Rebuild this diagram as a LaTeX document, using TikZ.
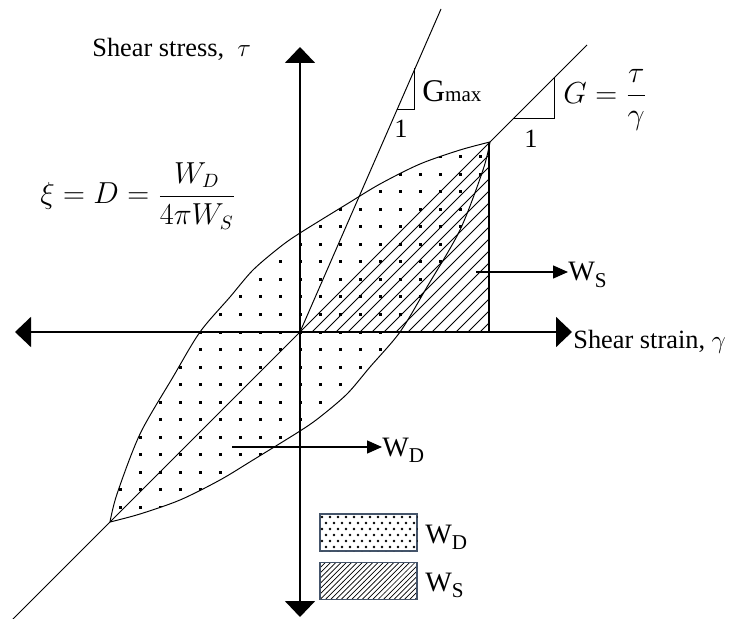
\documentclass[tikz,border=0pt]{standalone}
\usepackage{fontspec}
\setmainfont{Liberation Serif}
\usetikzlibrary{arrows.meta,patterns}

\definecolor{boxedge}{RGB}{68,84,106}
\newcommand\lowcap[1]{\raisebox{-0.22em}{\fontsize{12}{12}\selectfont #1}}

\tikzset{
  axis/.style={line width=1.1pt,
    {Triangle[length=3.2mm,width=6mm]}-{Triangle[length=3.2mm,width=6mm]}},
  thinline/.style={line width=0.55pt},
  pointer/.style={line width=0.8pt,-{Triangle[length=3mm,width=2.6mm]}},
  txt/.style={inner sep=0pt,font=\fontsize{15}{17}\selectfont},
  wtxt/.style={inner sep=0pt,font=\fontsize{16}{18}\selectfont},
  legendbox/.style={draw=boxedge,line width=0.8pt,minimum width=19.4mm,minimum height=7.4mm,inner sep=0pt}
}

\begin{document}
\begin{tikzpicture}[x=0.2mm,y=-0.2mm]
\useasboundingbox (0,0) rectangle (739,619);

% dotted loop area (W_D)
\begin{scope}
  \clip plot[smooth] coordinates {(110,522) (117,494) (140,434) (173,377) (200,332) (230,297) (253,270) (280,247) (300,233) (347,204) (380,184) (420,164) (460,150) (490,142)}
    -- plot[smooth] coordinates {(490,142) (483,170) (460,230) (427,287) (400,332) (370,367) (347,394) (320,417) (300,431) (253,460) (220,480) (180,500) (140,514) (110,522)} -- cycle;
  \foreach \i in {-10,...,10}
    \foreach \j in {-12,...,12}
      \fill (300+20*\i-1.5,332+17.5*\j-1.5) rectangle ++(3,3);
\end{scope}

% hatched triangle (W_S)
\begin{scope}
  \clip (300,332) -- (489,332) -- (489,142) -- cycle;
  \foreach \k in {1,...,16}
    \draw[thinline] (300+12*\k,332) -- ++(200,-200);
\end{scope}

% loop outline
\draw[thinline] plot[smooth] coordinates {(110,522) (117,494) (140,434) (173,377) (200,332) (230,297) (253,270) (280,247) (300,233) (347,204) (380,184) (420,164) (460,150) (490,142)};
\draw[thinline] plot[smooth] coordinates {(490,142) (483,170) (460,230) (427,287) (400,332) (370,367) (347,394) (320,417) (300,431) (253,460) (220,480) (180,500) (140,514) (110,522)};

\coordinate (O) at (300,332);
\coordinate (tip) at (489,142);
\coordinate (tipfoot) at (489,332);
\coordinate (diaglow) at (12,620);
\coordinate (diaghigh) at (587,45);
\coordinate (gmaxtop) at (441,9);
\coordinate (ytop) at (300,47);
\coordinate (ybot) at (300,617);
\coordinate (xleft) at (15,332);
\coordinate (xright) at (572,332);

% secant and initial slope
\draw[thinline] (diaglow) -- (diaghigh);
\draw[thinline] (O) -- (gmaxtop);
\draw[line width=1pt] (tip) -- (tipfoot);
\draw[thinline] (397,109) -- (414,109) -- (414,68);
\draw[thinline] (514,118) -- (554,118) -- (554,77);

% axes
\draw[axis] (ybot) -- (ytop);
\draw[axis] (xleft) -- (xright);

% labels
\node[txt,anchor=base west] (tautxt) at (92,57) {Shear stress,\ \ $\tau$};
\node[txt,anchor=base west] (gammatxt) at (573,348) {Shear strain,\ $\gamma$};
\node[txt,anchor=base west] (gmaxtxt) at (422,102) {\fontsize{18}{20}\selectfont G\fontsize{12}{14}\selectfont max};
\node[txt,anchor=base] (gmaxone) at (401,138) {\fontsize{15}{17}\selectfont 1};
\node[txt,anchor=base] (gone) at (531,148) {\fontsize{15}{17}\selectfont 1};
\node[txt,anchor=west,font=\fontsize{17}{20}\selectfont] (gsectxt) at (563,100) {$\displaystyle G=\frac{\tau}{\gamma}$};
\node[txt,font=\fontsize{16}{19}\selectfont] (damping) at (138,196) {$\displaystyle \xi = D = \frac{W_D}{4\pi W_S}$};

% pointers to the areas
\coordinate (wdtail) at (232,447);
\coordinate (wstail) at (476,272);
\node[wtxt,anchor=base west] (wdtxt) at (382,456) {W\lowcap{D}};
\node[wtxt,anchor=base west] (wstxt) at (568,281) {W\lowcap{S}};
\draw[pointer] (wdtail) -- (wdtail -| wdtxt.west);
\draw[pointer] (wstail) -- (wstail -| wstxt.west);

% legend
\node[legendbox] (keyd) at (368.5,532.5) {};
\node[legendbox,pattern=north east lines] (keys) at (368.5,581) {};
\begin{scope}
  \clip (keyd.south west) rectangle (keyd.north east);
  \foreach \i in {0,...,12}
    \foreach \j in {0,...,6}
      \fill ({322+8*\i+4*mod(\j,2)},{517+6*\j}) circle[radius=0.8pt];
\end{scope}
\node[wtxt,anchor=base west] (keydtxt) at (425,543) {W\lowcap{D}};
\node[wtxt,anchor=base west] (keystxt) at (425,591) {W\lowcap{S}};
\end{tikzpicture}
\end{document}
